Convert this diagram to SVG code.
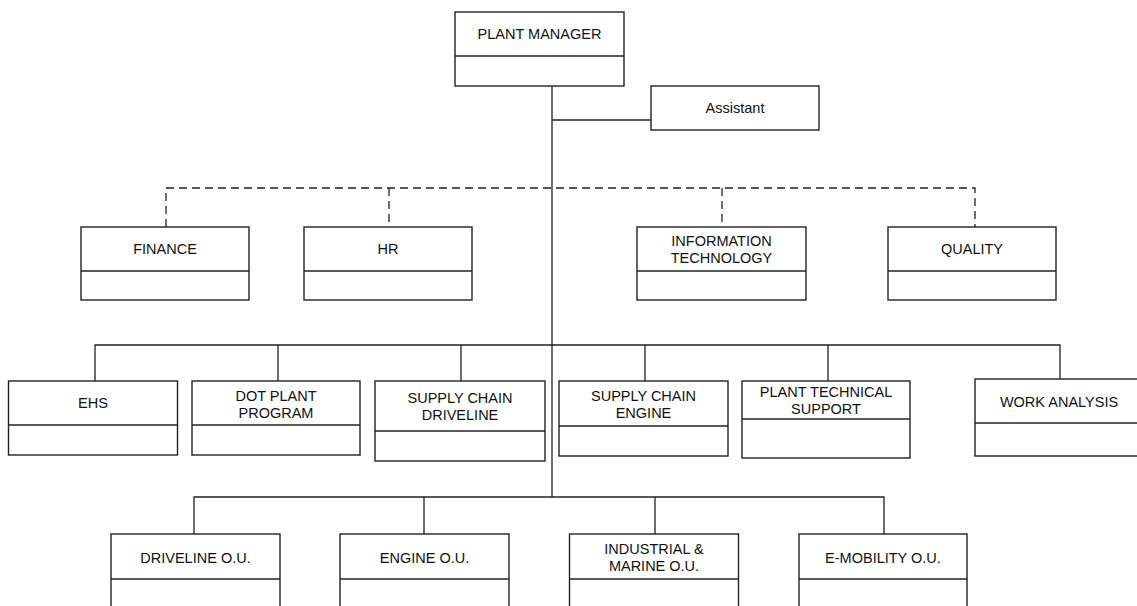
<svg xmlns="http://www.w3.org/2000/svg" width="1137" height="606" viewBox="0 0 1137 606">
<style>
.box{fill:#fff;stroke:#222;stroke-width:1.4}
.div{stroke:#222;stroke-width:1.4}
.t{font-family:"Liberation Sans",Arial,sans-serif;font-size:14.5px;fill:#111;text-anchor:middle}
.ln{fill:none;stroke:#222;stroke-width:1.3}
.dl{fill:none;stroke:#222;stroke-width:1.3;stroke-dasharray:8 5}
</style>
<rect width="1137" height="606" fill="#fff"/>
<g id="connectors">
<path class="dl" d="M166,227 V188 H975 V227"/>
<path class="dl" d="M389,188 V227"/>
<path class="dl" d="M722,188 V227"/>
<path class="ln" d="M552,86 V497"/>
<path class="ln" d="M552,120 H651"/>
<path class="ln" d="M95,381 V345 H1060 V379"/>
<path class="ln" d="M278,345 V381 M461,345 V381 M645,345 V381 M828,345 V381"/>
<path class="ln" d="M194,534 V497 H884 V534"/>
<path class="ln" d="M424,497 V534 M655,497 V534"/>
</g>
<g id="plant-manager">
<rect class="box" x="455" y="12" width="169" height="74"/>
<line class="div" x1="455" y1="56" x2="624" y2="56"/>
<text class="t" x="539.5" y="39">PLANT MANAGER</text>
</g>
<g id="assistant">
<rect class="box" x="651" y="86" width="168" height="44"/>
<text class="t" x="735" y="113">Assistant</text>
</g>
<g id="finance">
<rect class="box" x="81" y="227" width="168" height="73"/>
<line class="div" x1="81" y1="271" x2="249" y2="271"/>
<text class="t" x="165" y="254">FINANCE</text>
</g>
<g id="hr">
<rect class="box" x="304" y="227" width="168" height="73"/>
<line class="div" x1="304" y1="271" x2="472" y2="271"/>
<text class="t" x="388" y="254">HR</text>
</g>
<g id="it">
<rect class="box" x="637" y="227" width="169" height="73"/>
<line class="div" x1="637" y1="271" x2="806" y2="271"/>
<text class="t" x="721.5" y="246">INFORMATION</text>
<text class="t" x="721.5" y="263">TECHNOLOGY</text>
</g>
<g id="quality">
<rect class="box" x="888" y="227" width="168" height="73"/>
<line class="div" x1="888" y1="271" x2="1056" y2="271"/>
<text class="t" x="972" y="254">QUALITY</text>
</g>
<g id="ehs">
<rect class="box" x="8.5" y="381" width="169" height="74"/>
<line class="div" x1="8.5" y1="425" x2="177.5" y2="425"/>
<text class="t" x="93" y="408">EHS</text>
</g>
<g id="dot-plant-program">
<rect class="box" x="192" y="381" width="168" height="74"/>
<line class="div" x1="192" y1="425" x2="360" y2="425"/>
<text class="t" x="276" y="401">DOT PLANT</text>
<text class="t" x="276" y="418">PROGRAM</text>
</g>
<g id="supply-chain-driveline">
<rect class="box" x="375" y="381" width="170" height="80"/>
<line class="div" x1="375" y1="431" x2="545" y2="431"/>
<text class="t" x="460" y="403">SUPPLY CHAIN</text>
<text class="t" x="460" y="420">DRIVELINE</text>
</g>
<g id="supply-chain-engine">
<rect class="box" x="559" y="381" width="169" height="75"/>
<line class="div" x1="559" y1="426" x2="728" y2="426"/>
<text class="t" x="643.5" y="401">SUPPLY CHAIN</text>
<text class="t" x="643.5" y="418">ENGINE</text>
</g>
<g id="plant-technical-support">
<rect class="box" x="742" y="381" width="168" height="77"/>
<line class="div" x1="742" y1="419" x2="910" y2="419"/>
<text class="t" x="826" y="397">PLANT TECHNICAL</text>
<text class="t" x="826" y="414">SUPPORT</text>
</g>
<g id="work-analysis">
<rect class="box" x="975" y="379" width="168" height="77"/>
<line class="div" x1="975" y1="423" x2="1143" y2="423"/>
<text class="t" x="1059" y="407">WORK ANALYSIS</text>
</g>
<g id="driveline-ou">
<rect class="box" x="111" y="534" width="169" height="90"/>
<line class="div" x1="111" y1="579" x2="280" y2="579"/>
<text class="t" x="195.5" y="563">DRIVELINE O.U.</text>
</g>
<g id="engine-ou">
<rect class="box" x="340" y="534" width="169" height="90"/>
<line class="div" x1="340" y1="579" x2="509" y2="579"/>
<text class="t" x="424.5" y="563">ENGINE O.U.</text>
</g>
<g id="industrial-marine-ou">
<rect class="box" x="569.5" y="534" width="169" height="90"/>
<line class="div" x1="569.5" y1="579" x2="738.5" y2="579"/>
<text class="t" x="654" y="554">INDUSTRIAL &amp;</text>
<text class="t" x="654" y="571">MARINE O.U.</text>
</g>
<g id="e-mobility-ou">
<rect class="box" x="799" y="534" width="168" height="90"/>
<line class="div" x1="799" y1="579" x2="967" y2="579"/>
<text class="t" x="883" y="563">E-MOBILITY O.U.</text>
</g>
</svg>
